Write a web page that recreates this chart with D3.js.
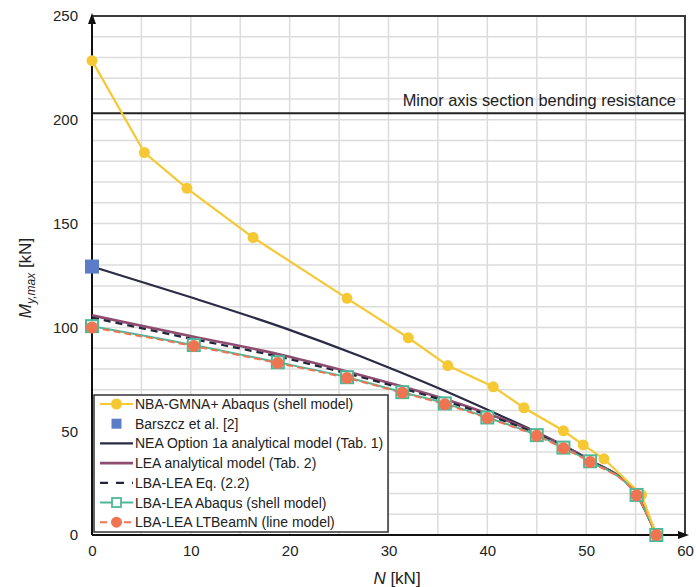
<!DOCTYPE html>
<html><head><meta charset="utf-8">
<script src="https://cdn.jsdelivr.net/npm/d3@7"></script>
<style>body{margin:0;background:#fff}svg{display:block}text{font-family:"Liberation Sans",Arial,sans-serif;fill:#222}</style>
</head><body><svg id="c" width="696" height="587"></svg>
<script>
// ---- data ----
const nbaN = [0, 5.3, 9.6, 16.3, 25.8, 32.0, 36.0, 40.6, 43.7, 47.7, 49.7, 51.8, 55.6, 57.1];
const nbaM = [228.5, 184.2, 167, 143.3, 114, 95, 81.6, 71.4, 61.3, 50.2, 43.4, 36.7, 19.3, 0];
const barN = [0];
const barM = [129.3];
const neaN = [0, 10, 19.7, 27.1, 31.2, 35.5, 40.3, 45, 50, 55.1, 57.1];
const neaM = [129.3, 114.5, 99.3, 86.2, 78.4, 69.8, 59.7, 49.5, 37, 19.5, 0];
const leaN = [0, 10.3, 18.8, 25.8, 31.4, 35.7, 40.0, 45.0, 47.7, 50.4, 55.1, 57.1];
const leaM = [105.8, 95.5, 87.2, 78.8, 71.5, 65.5, 58.5, 49.2, 43.0, 36.0, 19.5, 0];
const eqM  = [104.7, 94.3, 86.0, 77.8, 70.6, 64.6, 57.8, 48.7, 42.6, 35.7, 19.4, 0];
const lbaN = [0, 10.3, 18.8, 25.8, 31.4, 35.7, 40.0, 45.0, 47.7, 50.4, 55.1, 57.1];
const abqM = [100.6, 91.5, 83.2, 76.0, 68.8, 63.4, 56.6, 48.1, 42.1, 35.5, 19.3, 0];
const ltbM = [100.0, 91.0, 82.8, 75.6, 68.5, 63.0, 56.3, 47.8, 41.8, 35.2, 19.2, 0];
const resistM = 203.2;
const xTicks = [0, 10, 20, 30, 40, 50, 60];
const yTicks = [0, 50, 100, 150, 200, 250];
const legendLabels = ["NBA-GMNA+ Abaqus (shell model)", "Barszcz et al. [2]", "NEA Option 1a analytical model (Tab. 1)",
  "LEA analytical model (Tab. 2)", "LBA-LEA Eq. (2.2)", "LBA-LEA Abaqus (shell model)", "LBA-LEA LTBeamN (line model)"];

const C = {yel:"#F5C834", blue:"#5B7CC6", navy:"#2A2B45", purple:"#8E4C70", dash:"#23253A", teal:"#4DB898", orange:"#EF7452"};

const svg = d3.select("#c");
const x = d3.scaleLinear().domain([0, 60]).range([92, 685]);
const y = d3.scaleLinear().domain([0, 250]).range([535, 16]);
const zip = (a, b) => a.map((v, i) => [v, b[i]]);

// grid
const g = svg.append("g");
g.selectAll("line.v").data(d3.range(5, 60, 5)).join("line")
  .attr("x1", d => x(d)).attr("x2", d => x(d)).attr("y1", y(0)).attr("y2", y(250))
  .attr("stroke", "#dcdcdc").attr("stroke-width", 1.5);
g.selectAll("line.h").data(d3.range(10, 251, 10)).join("line")
  .attr("x1", x(0)).attr("x2", x(60)).attr("y1", d => y(d)).attr("y2", d => y(d))
  .attr("stroke", "#dcdcdc").attr("stroke-width", 1.5);

// frame top/right
svg.append("path").attr("d", `M${x(0)},${y(250)}H${x(60)}V${y(0)}`).attr("fill", "none")
  .attr("stroke", "#3a3a3a").attr("stroke-width", 2);

// resistance line
svg.append("line").attr("x1", x(0)).attr("x2", x(60)).attr("y1", y(resistM)).attr("y2", y(resistM))
  .attr("stroke", "#222").attr("stroke-width", 2);
svg.append("text").attr("x", 676).attr("y", y(resistM) - 7).attr("text-anchor", "end")
  .attr("font-size", 16.4).text("Minor axis section bending resistance");

// axes
const xa = svg.append("g").attr("transform", `translate(0,${y(0)})`)
  .call(d3.axisBottom(x).tickValues(xTicks).tickSize(0).tickPadding(10).tickFormat(d3.format("d")));
xa.select(".domain").remove();
xa.selectAll("text").attr("font-size", 15).style("font-family", "Liberation Sans, Arial").attr("fill", "#222");
const ya = svg.append("g").attr("transform", `translate(${x(0)},0)`)
  .call(d3.axisLeft(y).tickValues(yTicks).tickSize(0).tickPadding(14).tickFormat(d3.format("d")));
ya.select(".domain").remove();
ya.selectAll("text").attr("font-size", 15).style("font-family", "Liberation Sans, Arial").attr("fill", "#222");

svg.append("line").attr("x1", x(0)).attr("x2", x(0)).attr("y1", y(0)).attr("y2", y(250) + 4)
  .attr("stroke", "#111").attr("stroke-width", 2);
svg.append("path").attr("d", `M${x(0)},${y(250) - 3}l-4,11h8z`).attr("fill", "#111");
svg.append("line").attr("x1", x(0)).attr("x2", x(60) - 2).attr("y1", y(0)).attr("y2", y(0))
  .attr("stroke", "#111").attr("stroke-width", 2);
svg.append("path").attr("d", `M${x(60) + 4},${y(0)}l-11,-4v8z`).attr("fill", "#111");

// axis titles
svg.append("text").attr("x", 397).attr("y", 584).attr("text-anchor", "middle").attr("font-size", 17)
  .html('<tspan font-style="italic">N</tspan> [kN]');
svg.append("text").attr("transform", "translate(31,278) rotate(-90)").attr("text-anchor", "middle").attr("font-size", 17)
  .html('<tspan font-style="italic">M</tspan><tspan font-style="italic" font-size="12" dy="4">y,max</tspan><tspan dy="-4"> [kN]</tspan>');

// lines
const line = d3.line().x(d => x(d[0])).y(d => y(d[1]));
const smooth = d3.line().x(d => x(d[0])).y(d => y(d[1])).curve(d3.curveMonotoneX);
svg.append("path").attr("d", smooth(zip(neaN, neaM))).attr("fill", "none").attr("stroke", C.navy).attr("stroke-width", 2.2);
svg.append("path").attr("d", smooth(zip(leaN, leaM))).attr("fill", "none").attr("stroke", C.purple).attr("stroke-width", 2.6);
svg.append("path").attr("d", smooth(zip(leaN, eqM))).attr("fill", "none").attr("stroke", C.dash).attr("stroke-width", 2.2).attr("stroke-dasharray", "7,5");
svg.append("path").attr("d", smooth(zip(lbaN, abqM))).attr("fill", "none").attr("stroke", C.teal).attr("stroke-width", 2);
svg.append("path").attr("d", smooth(zip(lbaN, ltbM))).attr("fill", "none").attr("stroke", C.orange).attr("stroke-width", 2).attr("stroke-dasharray", "7,4");
svg.append("path").attr("d", line(zip(nbaN, nbaM))).attr("fill", "none").attr("stroke", C.yel).attr("stroke-width", 2.2);

// markers
svg.append("g").selectAll("circle").data(zip(nbaN, nbaM)).join("circle")
  .attr("cx", d => x(d[0])).attr("cy", d => y(d[1])).attr("r", 5.5).attr("fill", C.yel);
svg.append("g").selectAll("rect").data(zip(lbaN, abqM)).join("rect")
  .attr("x", d => x(d[0]) - 6).attr("y", d => y(d[1]) - 6).attr("width", 12).attr("height", 12)
  .attr("fill", "#e8f5ef").attr("stroke", C.teal).attr("stroke-width", 2);
svg.append("g").selectAll("circle").data(zip(lbaN, ltbM)).join("circle")
  .attr("cx", d => x(d[0])).attr("cy", d => y(d[1])).attr("r", 6).attr("fill", C.orange);
svg.append("g").selectAll("rect").data(zip(barN, barM)).join("rect")
  .attr("x", d => x(d[0]) - 7).attr("y", d => y(d[1]) - 7).attr("width", 14).attr("height", 14).attr("fill", C.blue);

// legend
const L = svg.append("g");
L.append("rect").attr("x", 94).attr("y", 395).attr("width", 294).attr("height", 137)
  .attr("fill", "#fff").attr("stroke", "#333").attr("stroke-width", 1.5);
const rowY = i => 404 + i * 19.7;
const sx1 = 100, sx2 = 133, sm = 116.5;
legendLabels.forEach((t, i) => {
  L.append("text").attr("x", 135).attr("y", rowY(i) + 5).attr("font-size", 14).text(t);
});
L.append("line").attr("x1", sx1).attr("x2", sx2).attr("y1", rowY(0)).attr("y2", rowY(0)).attr("stroke", C.yel).attr("stroke-width", 2.2);
L.append("circle").attr("cx", sm).attr("cy", rowY(0)).attr("r", 5.5).attr("fill", C.yel);
L.append("rect").attr("x", sm - 5).attr("y", rowY(1) - 5).attr("width", 10).attr("height", 10).attr("fill", C.blue);
L.append("line").attr("x1", sx1).attr("x2", sx2).attr("y1", rowY(2)).attr("y2", rowY(2)).attr("stroke", C.navy).attr("stroke-width", 2.2);
L.append("line").attr("x1", sx1).attr("x2", sx2).attr("y1", rowY(3)).attr("y2", rowY(3)).attr("stroke", C.purple).attr("stroke-width", 2.6);
L.append("line").attr("x1", sx1).attr("x2", sx2).attr("y1", rowY(4)).attr("y2", rowY(4)).attr("stroke", C.dash).attr("stroke-width", 2.2).attr("stroke-dasharray", "8,8");
L.append("line").attr("x1", sx1).attr("x2", sx2).attr("y1", rowY(5)).attr("y2", rowY(5)).attr("stroke", C.teal).attr("stroke-width", 2);
L.append("rect").attr("x", sm - 4.5).attr("y", rowY(5) - 4.5).attr("width", 9).attr("height", 9).attr("fill", "#fff").attr("stroke", C.teal).attr("stroke-width", 1.8);
L.append("line").attr("x1", sx1).attr("x2", sx2).attr("y1", rowY(6)).attr("y2", rowY(6)).attr("stroke", C.orange).attr("stroke-width", 2).attr("stroke-dasharray", "7,5");
L.append("circle").attr("cx", sm).attr("cy", rowY(6)).attr("r", 5.5).attr("fill", C.orange);
</script></body></html>
